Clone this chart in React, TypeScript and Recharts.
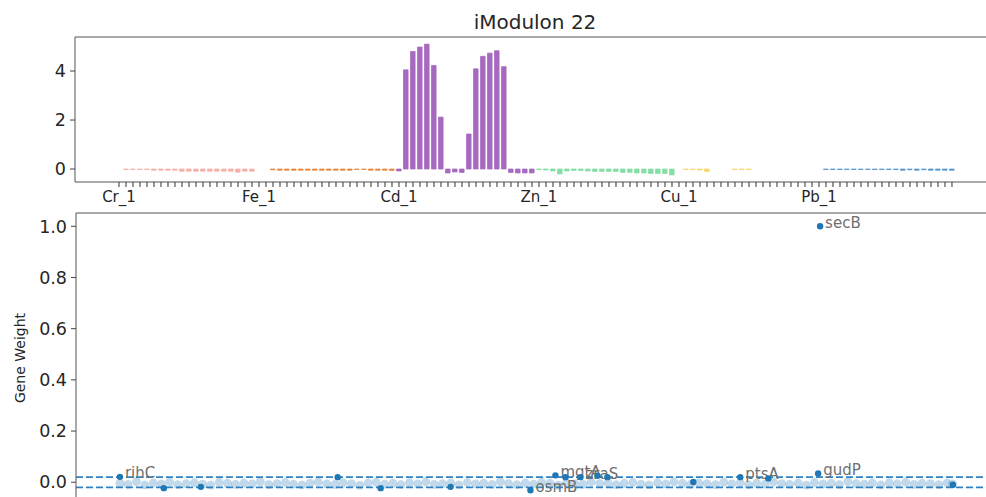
import React from 'react'
import {
  ComposedChart, Bar, Cell, XAxis, YAxis, ReferenceLine,
  ScatterChart, Scatter,
} from 'recharts'

// ---- top panel: iModulon activity per sample ----
const groups = ['Cr', 'Fe', 'Cd', 'Zn', 'Cu', 'Pb']
const groupColors = ['#f6b0a9', '#ea873c', '#a669bf', '#84dfa6', '#f7d66a', '#5597cf']

// 20 sample slots per group, null where no bar is drawn
const crActivity = [null, -0.02, -0.02, -0.02, -0.02, -0.05, -0.05, -0.05, -0.05, -0.09, -0.09, -0.09, -0.09, -0.09, -0.09, -0.09, -0.09, -0.13, -0.09, -0.09]
const feActivity = [null, null, -0.03, -0.05, -0.05, -0.05, -0.05, -0.05, -0.05, -0.05, -0.05, -0.05, -0.05, -0.05, -0.02, -0.02, -0.05, -0.05, -0.05, -0.06]
const cdActivity = [-0.08, 4.05, 4.8, 4.98, 5.1, 4.23, 2.12, -0.16, -0.12, -0.14, 1.43, 4.09, 4.6, 4.73, 4.83, 4.18, -0.14, -0.16, -0.16, -0.16]
const znActivity = [-0.02, -0.04, -0.08, -0.2, -0.08, -0.06, -0.06, -0.08, -0.1, -0.1, -0.1, -0.1, -0.14, -0.14, -0.16, -0.16, -0.18, -0.18, -0.18, -0.24]
const cuActivity = [null, -0.02, -0.02, -0.04, -0.1, null, null, null, -0.02, -0.02, -0.02, null, null, null, null, null, null, null, null, null]
const pbActivity = [null, -0.02, -0.02, -0.02, -0.02, -0.02, -0.02, -0.02, -0.02, -0.02, -0.02, -0.02, -0.05, -0.03, -0.05, -0.03, -0.05, -0.05, -0.05, -0.05]

const activityByGroup = [crActivity, feActivity, cdActivity, znActivity, cuActivity, pbActivity]

const barData = activityByGroup.flatMap((vals, g) =>
  vals.map((v, k) => ({ slot: g * 20 + k, activity: v, group: g }))
)
const slotTicks = barData.map(d => d.slot)

// ---- bottom panel: gene weights ----
const bandPos = [
  0, 45, 92, 138, 185, 230, 276, 321, 368, 414,
  460, 505, 552, 598, 643, 690, 736, 781, 828, 874,
  920, 965, 1012, 1058, 1103, 1150, 1196, 1241, 1288, 1334,
  1380, 1425, 1472, 1518, 1563, 1610, 1656, 1701, 1748, 1794,
  1840, 1885, 1932, 1978, 2023, 2070, 2116, 2161, 2208, 2254,
  2300, 2345, 2392, 2438, 2483, 2530, 2576, 2621, 2668, 2714,
  2760, 2805, 2852, 2898, 2943, 2990, 3036, 3081, 3128, 3174,
  3220, 3265, 3312, 3358, 3403, 3450, 3496, 3541, 3588, 3634,
  3680, 3725, 3772, 3818, 3863, 3910, 3956, 4001, 4048, 4094,
  4140, 4185, 4232, 4278, 4323, 4370, 4416, 4461, 4508, 4554,
  4600, 4630,
]
const bandWeight = [
  -0.004, -0.008, 0.002, -0.010, -0.003, -0.006, 0.001, -0.009, -0.005, -0.002,
  -0.007, -0.011, 0.000, -0.004, -0.008, -0.003, -0.006, 0.002, -0.009, -0.005,
  -0.001, -0.007, -0.010, -0.004, 0.001, -0.006, -0.008, -0.002, -0.005, -0.011,
  -0.003, 0.000, -0.007, -0.004, -0.009, -0.002, -0.006, 0.001, -0.008, -0.005,
  -0.003, -0.010, -0.001, -0.006, -0.004, -0.008, 0.002, -0.005, -0.009, -0.003,
  -0.007, 0.000, -0.004, -0.011, -0.002, -0.006, -0.008, 0.001, -0.005, -0.003,
  -0.009, -0.004, -0.001, -0.007, -0.010, -0.002, -0.006, 0.001, -0.004, -0.008,
  -0.003, -0.005, -0.009, 0.000, -0.006, -0.002, -0.010, -0.004, -0.007, 0.001,
  -0.005, -0.008, -0.003, -0.011, -0.001, -0.006, -0.004, -0.009, 0.002, -0.005,
  -0.007, -0.003, -0.010, -0.002, -0.006, 0.000, -0.008, -0.004, -0.005, -0.009,
  -0.003, -0.006,
]
const bandData = bandPos.map((p, i) => ({ pos: p, w: bandWeight[i] }))

const genePos = [0, 244, 450, 1211, 1450, 1839, 2283, 2422, 2478, 2561, 2656, 2711, 3189, 3450, 3606, 3883, 3894, 4633]
const geneWeight = [0.021, -0.023, -0.018, 0.02, -0.023, -0.018, -0.031, 0.027, 0.02, 0.02, 0.025, 0.02, 0.001, 0.02, 0.015, 0.034, 1.0, -0.01]
const geneName = ['rihC', '', '', '', '', '', 'osmB', 'mgtA', '', 'zraS', '', '', '', 'ptsA', '', 'gudP', 'secB', '']
const geneData = genePos.map((p, i) => ({ pos: p, w: geneWeight[i], name: geneName[i] }))

const weightTicks = [0, 0.2, 0.4, 0.6, 0.8, 1.0]

const font = 'DejaVu Sans, sans-serif'
const ink = '#262626'
const spine = '#555'

const XTick = (props: any) => {
  const { x, y, payload } = props
  const v = payload.value
  if (v % 20 !== 0) return <g />
  return (
    <text x={x} y={y} dy={12} textAnchor="middle" fontSize={15} fill={ink}>
      {groups[v / 20] + '_1'}
    </text>
  )
}

const GeneDot = (props: any) => {
  const { cx, cy, payload } = props
  return (
    <g>
      <circle cx={cx} cy={cy} r={3.2} fill="#1f77b4" />
      {payload.name ? (
        <text x={cx + 5} y={cy + 1.5} fontSize={15} fill="#6f6f6f">{payload.name}</text>
      ) : null}
    </g>
  )
}

const BandDot = (props: any) => (
  <circle cx={props.cx} cy={props.cy} r={4.4} fill="#1f77b4" fillOpacity={0.28} />
)

export default function App() {
  return (
    <div style={{ position: 'relative', width: 986, height: 497, overflow: 'hidden', fontFamily: font, background: '#fff' }}>
      <style>{'body{margin:0;overflow:hidden}'}</style>
      <div style={{ position: 'absolute', left: 75, top: 10, width: 920, textAlign: 'center', fontSize: 20, lineHeight: '24px', color: ink }}>
        iModulon 22
      </div>
      <div style={{ position: 'absolute', left: 0, top: 0 }}>
        <ComposedChart width={1000} height={210} data={barData} margin={{ top: 37, right: 5, left: 0, bottom: 0 }}>
          <XAxis
            type="number"
            dataKey="slot"
            domain={[-6.2857, 125.1429]}
            allowDataOverflow
            ticks={slotTicks}
            interval={0}
            tickSize={5}
            tickMargin={3}
            tickLine={{ stroke: '#333' }}
            axisLine={{ stroke: spine }}
            tick={XTick}
            height={28}
          />
          <YAxis
            type="number"
            domain={[-0.53, 5.39]}
            allowDataOverflow
            ticks={[0, 2, 4]}
            width={75}
            tickSize={5}
            tickMargin={4}
            tickLine={{ stroke: '#444' }}
            axisLine={{ stroke: spine }}
            tick={{ fontSize: 17.5, fill: ink }}
          />
          <ReferenceLine y={5.39} stroke={spine} />
          <Bar dataKey="activity" barSize={4.6} isAnimationActive={false}>
            {barData.map(d => (
              <Cell key={d.slot} fill={groupColors[d.group]} stroke={groupColors[d.group]} strokeWidth={1} strokeOpacity={0.75} />
            ))}
          </Bar>
        </ComposedChart>
      </div>
      <div style={{ position: 'absolute', left: 0, top: 200 }}>
        <ScatterChart width={1000} height={310} margin={{ top: 13, right: 5, left: 0, bottom: 6 }}>
          <XAxis type="number" dataKey="pos" domain={[-244.4, 4866.7]} allowDataOverflow hide />
          <YAxis
            type="number"
            dataKey="w"
            domain={[-0.085, 1.052]}
            allowDataOverflow
            ticks={weightTicks}
            tickFormatter={(v: number) => v.toFixed(1)}
            width={76}
            tickSize={5}
            tickMargin={4}
            tickLine={{ stroke: '#444' }}
            axisLine={{ stroke: spine }}
            tick={{ fontSize: 17.5, fill: ink }}
            label={{
              content: () => (
                <text x={20} y={158} transform="rotate(-90 20 158)" textAnchor="middle" dominantBaseline="central" fontSize={14} fill={ink}>
                  Gene Weight
                </text>
              ),
            }}
          />
          <ReferenceLine y={1.052} stroke={spine} />
          <Scatter data={bandData} shape={BandDot} isAnimationActive={false} />
          <ReferenceLine y={0.02} stroke="#3182c4" strokeWidth={1.8} strokeDasharray="7 3" />
          <ReferenceLine y={-0.02} stroke="#3182c4" strokeWidth={1.8} strokeDasharray="7 3" />
          <Scatter data={geneData} shape={GeneDot} isAnimationActive={false} />
        </ScatterChart>
      </div>
    </div>
  )
}
